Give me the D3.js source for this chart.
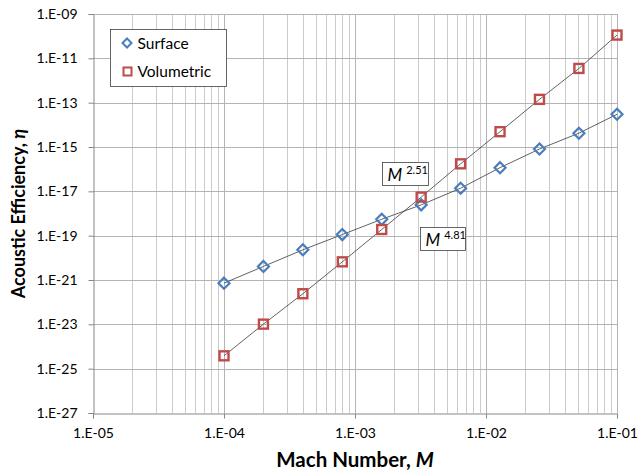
<!DOCTYPE html>
<html>
<head>
<meta charset="utf-8">
<script src="https://cdn.jsdelivr.net/npm/d3@7"></script>
<style>
	body { margin: 0; background: #fff; }
	text { font-family: Lato, "Open Sans", sans-serif; fill: #000; }
	.axis-title { font-weight: bold; }
</style>
</head>
<body>
<div id="chart"></div>
<script>
// Mach numbers (doubling steps)
let mach = [1e-4, 2e-4, 4e-4, 8e-4, 1.6e-3, 3.2e-3, 6.4e-3, 1.28e-2, 2.56e-2, 5.12e-2, 1e-1];
let surface = [7.2e-22, 4.1e-21, 2.3e-20, 1.12e-19, 5.5e-19, 2.45e-18, 1.38e-17, 1.17e-16, 8.1e-16, 4.2e-15, 3.0e-14];
let volumetric = [3.8e-25, 1.02e-23, 2.4e-22, 6.6e-21, 1.9e-19, 5.5e-18, 1.74e-16, 4.9e-15, 1.41e-13, 3.5e-12, 1.12e-10];
let xTicks = [1e-5, 1e-4, 1e-3, 1e-2, 1e-1];
let xTickLabels = ["1.E-05", "1.E-04", "1.E-03", "1.E-02", "1.E-01"];
let yTicks = [1e-27, 1e-25, 1e-23, 1e-21, 1e-19, 1e-17, 1e-15, 1e-13, 1e-11, 1e-9];
let yTickLabels = ["1.E-27", "1.E-25", "1.E-23", "1.E-21", "1.E-19", "1.E-17", "1.E-15", "1.E-13", "1.E-11", "1.E-09"];

const w = 640,
	h = 476;
const mLeft = 93,
	mRight = 617,
	mTop = 14,
	mBottom = 413;

let svg = d3
	.select("#chart")
	.append("svg")
	.attr("width", w)
	.attr("height", h);

let x = d3.scaleLog().domain([1e-5, 1e-1]).range([mLeft, mRight]);
let y = d3.scaleLog().domain([1e-27, 1e-9]).range([mBottom, mTop]);

// minor vertical gridlines (2..9 in every decade)
let minor = [];
for (let d = -5; d < -1; d++) {
	for (let k = 2; k <= 9; k++) minor.push(k * Math.pow(10, d));
}

svg
	.append("g")
	.selectAll("line")
	.data(minor)
	.enter()
	.append("line")
	.attr("x1", (d) => Math.round(x(d)) + 0.5)
	.attr("x2", (d) => Math.round(x(d)) + 0.5)
	.attr("y1", mTop)
	.attr("y2", mBottom)
	.attr("stroke", "#cbcbcb");

svg
	.append("g")
	.selectAll("line")
	.data(xTicks.slice(1))
	.enter()
	.append("line")
	.attr("x1", (d) => Math.round(x(d)) + 0.5)
	.attr("x2", (d) => Math.round(x(d)) + 0.5)
	.attr("y1", mTop)
	.attr("y2", mBottom)
	.attr("stroke", "#b4b4b4");

svg
	.append("g")
	.selectAll("line")
	.data(yTicks.slice(1))
	.enter()
	.append("line")
	.attr("x1", mLeft)
	.attr("x2", mRight)
	.attr("y1", (d) => Math.round(y(d)) + 0.5)
	.attr("y2", (d) => Math.round(y(d)) + 0.5)
	.attr("stroke", "#b4b4b4");

// axes
let xAxis = d3
	.axisBottom(x)
	.tickValues(xTicks)
	.tickFormat((d, i) => xTickLabels[i])
	.tickSizeOuter(0)
	.tickSize(5)
	.tickPadding(10);

let yAxis = d3
	.axisLeft(y)
	.tickValues(yTicks)
	.tickFormat((d, i) => yTickLabels[i])
	.tickSizeOuter(0)
	.tickSize(5)
	.tickPadding(11);

let gx = svg
	.append("g")
	.attr("transform", "translate(0," + (mBottom + 0.5) + ")")
	.call(xAxis);
let gy = svg
	.append("g")
	.attr("transform", "translate(" + (mLeft + 0.5) + ",0)")
	.call(yAxis);

[gx, gy].forEach((g) => {
	g.select(".domain").attr("stroke", "#868686");
	g.selectAll(".tick line").attr("stroke", "#868686");
	g.selectAll(".tick text")
		.style("font-family", "Lato, 'Open Sans', sans-serif")
		.style("font-size", "14px")
		.attr("fill", "#000");
});

// series lines
let line = d3
	.line()
	.x((d) => x(d[0]))
	.y((d) => y(d[1]));

let surfPts = mach.map((m, i) => [m, surface[i]]);
let volPts = mach.map((m, i) => [m, volumetric[i]]);

[surfPts, volPts].forEach((pts) => {
	svg
		.append("path")
		.datum(pts)
		.attr("d", line)
		.attr("fill", "none")
		.attr("stroke", "#3a3a3a")
		.attr("stroke-width", 0.8);
});

// markers
let diamond = "M0,-5.5L5.5,0L0,5.5L-5.5,0Z";

svg
	.append("g")
	.selectAll("path")
	.data(surfPts)
	.enter()
	.append("path")
	.attr("d", diamond)
	.attr("transform", (d) => "translate(" + x(d[0]) + "," + y(d[1]) + ")")
	.attr("fill", "none")
	.attr("stroke", "#4a7ebb")
	.attr("stroke-width", 2.2);

svg
	.append("g")
	.selectAll("rect")
	.data(volPts)
	.enter()
	.append("rect")
	.attr("x", (d) => x(d[0]) - 4.5)
	.attr("y", (d) => y(d[1]) - 4.5)
	.attr("width", 9)
	.attr("height", 9)
	.attr("fill", "none")
	.attr("stroke", "#be4b48")
	.attr("stroke-width", 2.4);

// exponent labels
function expLabel(bx, by, bw, bh, exp) {
	let g = svg.append("g").attr("transform", "translate(" + bx + "," + by + ")");
	g.append("rect")
		.attr("width", bw)
		.attr("height", bh)
		.attr("fill", "#fff")
		.attr("stroke", "#404040")
		.attr("stroke-width", 0.8);
	let t = g.append("text").attr("x", 5).attr("y", bh - 5);
	t.append("tspan").style("font-style", "italic").style("font-size", "17px").text("M");
	t.append("tspan").attr("dx", 4).attr("dy", -7).style("font-size", "11px").text(exp);
}
expLabel(382.5, 162.5, 46, 23, "2.51");
expLabel(420.5, 227.5, 45, 23, "4.81");

// legend
let legend = svg.append("g").attr("transform", "translate(110.5,29.5)");
legend
	.append("rect")
	.attr("width", 116)
	.attr("height", 57)
	.attr("fill", "#fff")
	.attr("stroke", "#404040")
	.attr("stroke-width", 0.8);
legend
	.append("path")
	.attr("d", "M0,-4.5L4.5,0L0,4.5L-4.5,0Z")
	.attr("transform", "translate(16.5,13.5)")
	.attr("fill", "none")
	.attr("stroke", "#4a7ebb")
	.attr("stroke-width", 2);
legend
	.append("rect")
	.attr("x", 13)
	.attr("y", 38)
	.attr("width", 8)
	.attr("height", 8)
	.attr("fill", "none")
	.attr("stroke", "#be4b48")
	.attr("stroke-width", 2);
legend.append("text").attr("x", 27).attr("y", 19).style("font-size", "15.5px").text("Surface");
legend.append("text").attr("x", 27).attr("y", 47).style("font-size", "15.5px").text("Volumetric");

// axis titles
let xt = svg
	.append("text")
	.attr("class", "axis-title")
	.attr("x", (mLeft + mRight) / 2)
	.attr("y", 467)
	.attr("text-anchor", "middle")
	.style("font-size", "20.5px");
xt.append("tspan").text("Mach Number, ");
xt.append("tspan").style("font-style", "italic").text("M");

let yt = svg
	.append("text")
	.attr("class", "axis-title")
	.attr("transform", "translate(25," + (mTop + mBottom) / 2 + ") rotate(-90)")
	.attr("text-anchor", "middle")
	.style("font-size", "18px");
yt.append("tspan").text("Acoustic Efficiency, ");
yt.append("tspan").style("font-style", "italic").text("η");
</script>
</body>
</html>
